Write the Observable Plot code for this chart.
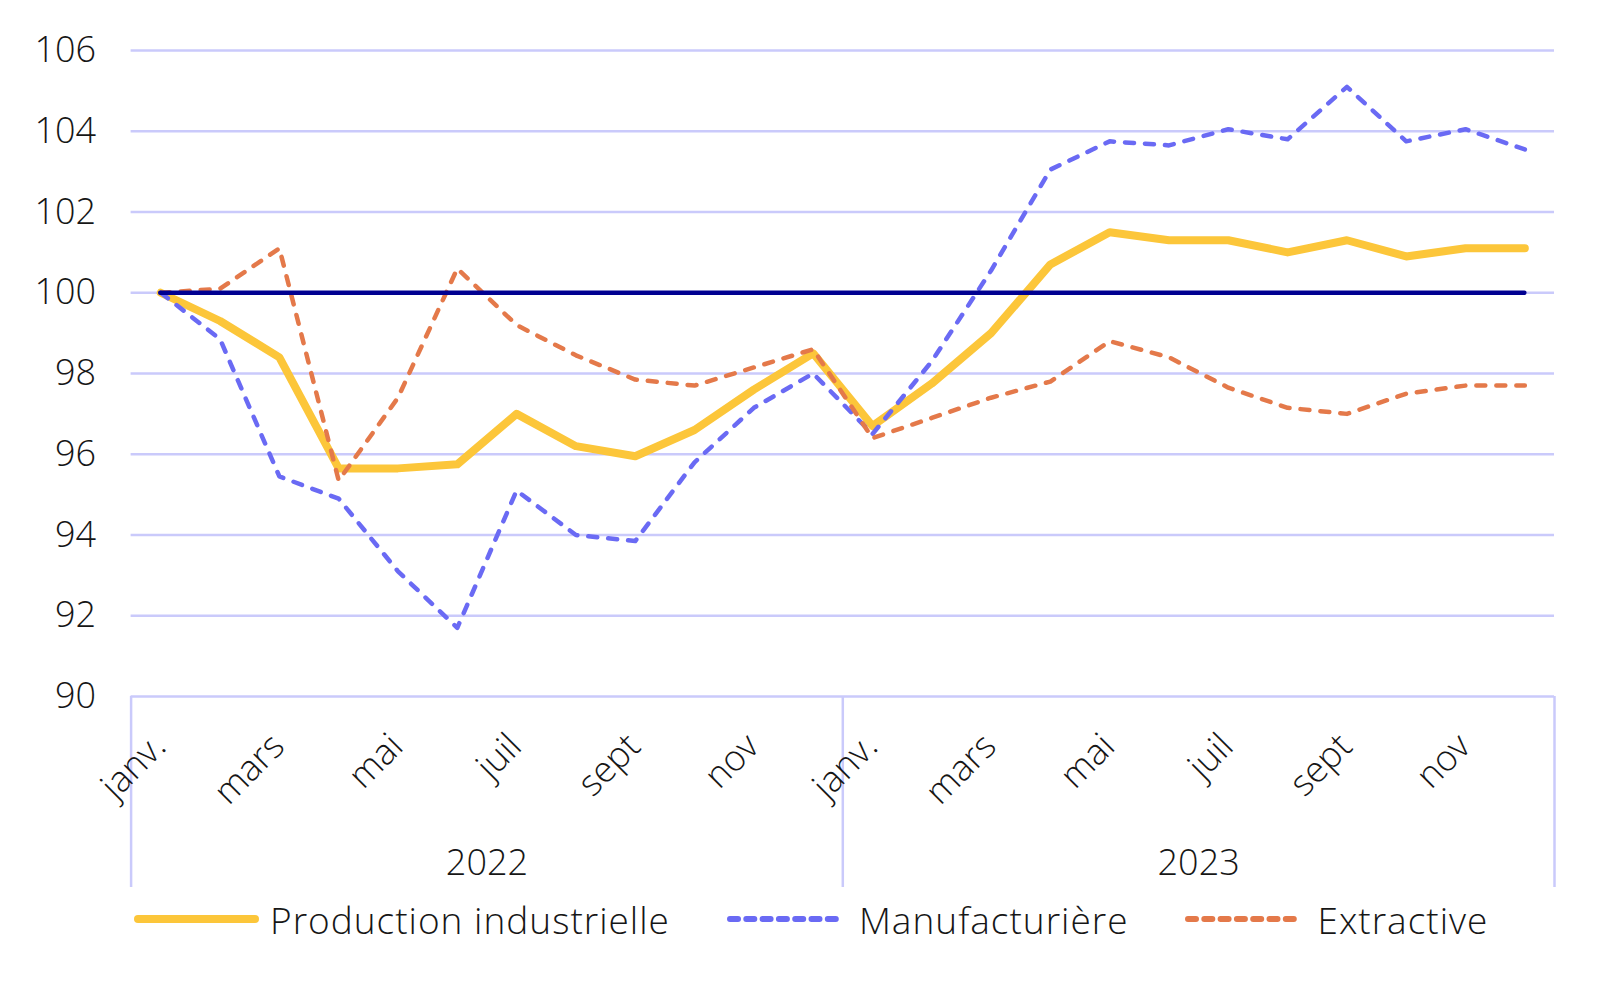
<!DOCTYPE html>
<html>
<head>
<meta charset="utf-8">
<script src="https://cdn.jsdelivr.net/npm/d3@7"></script>
<script src="https://cdn.jsdelivr.net/npm/@observablehq/plot@0.6"></script>
<style>
  html, body { margin: 0; padding: 0; background: #ffffff; }
  body { font-family: "Open Sans", sans-serif; color: #161616; width: 1604px; height: 986px; overflow: hidden; }
  #legend { display: flex; align-items: center; height: 48px; padding-left: 134px; font-size: 37px; font-weight: 300; letter-spacing: 1px; }
  #legend .item { display: flex; align-items: center; }
  #legend svg { display: block; }
</style>
</head>
<body>
<div id="chart"></div>
<div id="legend"></div>
<script>
// ---- Data ----
const monthNames = ["janv.", "févr.", "mars", "avr.", "mai", "juin", "juil", "août", "sept", "oct.", "nov", "déc."];
const shownMonths = ["janv.", "mars", "mai", "juil", "sept", "nov"];
const years = ["2022", "2023"];
const yTicks = [90, 92, 94, 96, 98, 100, 102, 104, 106];
const reference = 100;

const seriesNames = ["Production industrielle", "Manufacturière", "Extractive"];
const seriesColors = ["#fcc63a", "#6a6af4", "#e4794a"];

const production = [100, 99.3, 98.4, 95.65, 95.65, 95.75, 97.0, 96.2, 95.95, 96.6, 97.6, 98.5,
                    96.7, 97.75, 99.0, 100.7, 101.5, 101.3, 101.3, 101.0, 101.3, 100.9, 101.1, 101.1];
const manufacturiere = [100, 98.85, 95.45, 94.9, 93.1, 91.7, 95.1, 94.0, 93.85, 95.8, 97.15, 98.0,
                        96.5, 98.3, 100.55, 103.05, 103.75, 103.65, 104.05, 103.8, 105.1, 103.75, 104.05, 103.55];
const extractive = [100, 100.1, 101.1, 95.35, 97.4, 100.6, 99.2, 98.45, 97.85, 97.7, 98.15, 98.6,
                    96.4, 96.9, 97.4, 97.8, 98.8, 98.4, 97.65, 97.15, 97.0, 97.5, 97.7, 97.7];

// ---- Build tables ----
const allSeries = [production, manufacturiere, extractive];
const periods = [];
years.forEach((yr, yi) => monthNames.forEach((m, mi) => periods.push({t: yi * 12 + mi, year: yr, month: m})));
const rows = (arr) => periods.map((p, i) => ({t: p.t, v: arr[i], month: p.month, year: p.year}));

const tickPeriods = periods.filter(p => shownMonths.includes(p.month));
const yearLabels = years.map((yr, yi) => ({year: yr, center: yi * 12 + (monthNames.length - 1) / 2}));
const separators = [-0.5, ...years.map((yr, yi) => yi * 12 + monthNames.length - 0.5)];

const FONT = "Open Sans";
const gridColor = "#cacafb";

const lineStyles = [
  {strokeWidth: 8},
  {strokeWidth: 4.5, strokeDasharray: "9,11"},
  {strokeWidth: 4.5, strokeDasharray: "9,11"}
];

const plot = Plot.plot({
  width: 1604,
  height: 895,
  marginLeft: 130.6,
  marginRight: 50,
  marginTop: 50,
  marginBottom: 199,
  x: {domain: [-0.5, periods.length - 0.5], axis: null},
  y: {domain: [yTicks[0], yTicks[yTicks.length - 1]], axis: null},
  style: {fontFamily: FONT, background: "#ffffff", color: "#161616", overflow: "visible"},
  marks: [
    Plot.ruleY(yTicks, {stroke: gridColor, strokeWidth: 2.5}),
    Plot.ruleX(separators, {y1: yTicks[0], y2: yTicks[0], insetBottom: -191, stroke: gridColor, strokeWidth: 2.5}),
    Plot.text(yTicks, {frameAnchor: "left", y: d => d, text: d => String(d), textAnchor: "end", dx: -35,
      fontSize: 36, fontWeight: 300, fill: "#161616", letterSpacing: "0.5px"}),
    Plot.text(tickPeriods, {x: "t", frameAnchor: "bottom", text: "month", rotate: -45, textAnchor: "end",
      lineAnchor: "bottom", dx: 7, dy: 52, fontSize: 36, fontWeight: 300, fill: "#161616"}),
    Plot.text(yearLabels, {x: "center", frameAnchor: "bottom", text: "year", lineAnchor: "bottom",
      dy: 178, fontSize: 36, fontWeight: 300, fill: "#161616", letterSpacing: "1px"}),
    ...allSeries.map((arr, i) => Plot.line(rows(arr), {x: "t", y: "v", stroke: seriesColors[i],
      strokeLinecap: "round", strokeLinejoin: "round", ...lineStyles[i]})),
    Plot.ruleY([reference], {x1: 0, x2: periods.length - 1, stroke: "#000091", strokeWidth: 4.5, strokeLinecap: "round"})
  ]
});
document.getElementById("chart").appendChild(plot);

// ---- Legend ----
const legend = d3.select("#legend");
const legendSpecs = [
  {w: 125, gapText: 11, dash: null, sw: 8},
  {w: 114, gapText: 18, dash: "8,8.3", sw: 6},
  {w: 114, gapText: 18, dash: "8,8.3", sw: 6}
];
seriesNames.forEach((name, i) => {
  const s = legendSpecs[i];
  const item = legend.append("div").attr("class", "item").style("margin-left", i === 0 ? "0px" : "57px");
  const svg = item.append("svg").attr("width", s.w).attr("height", 20);
  svg.append("line").attr("x1", s.sw / 2).attr("x2", s.w - s.sw / 2).attr("y1", 10).attr("y2", 10)
    .attr("stroke", seriesColors[i]).attr("stroke-width", s.sw).attr("stroke-linecap", "round")
    .attr("stroke-dasharray", s.dash);
  item.append("span").style("margin-left", s.gapText + "px").text(name);
});
</script>
</body>
</html>
